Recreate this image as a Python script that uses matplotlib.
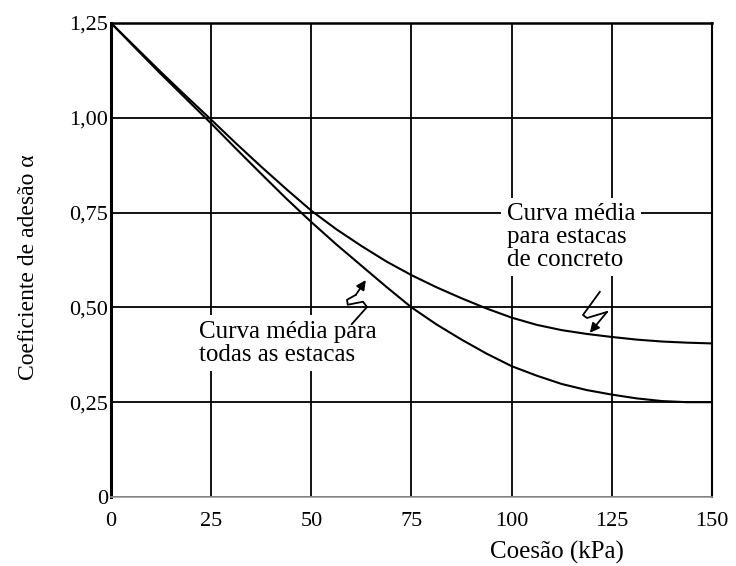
import matplotlib
matplotlib.use("Agg")
import matplotlib.pyplot as plt

plt.rcParams["font.family"] = ["Liberation Serif", "DejaVu Serif"]

coesao = [0, 6.25, 12.5, 18.75, 25, 31.25, 37.5, 43.75, 50, 56.25, 62.5,
          68.75, 75, 81.25, 87.5, 93.75, 100, 106.25, 112.5, 118.75, 125,
          131.25, 137.5, 143.75, 150]
alfa_concreto = [1.25, 1.185, 1.12, 1.057, 0.995, 0.932, 0.871, 0.812, 0.755,
                 0.706, 0.662, 0.621, 0.585, 0.553, 0.524, 0.497, 0.473,
                 0.454, 0.440, 0.430, 0.422, 0.415, 0.410, 0.407, 0.405]
alfa_todas = [1.25, 1.182, 1.115, 1.05, 0.985, 0.918, 0.852, 0.787, 0.725,
              0.666, 0.610, 0.554, 0.500, 0.455, 0.415, 0.378, 0.345,
              0.320, 0.298, 0.282, 0.270, 0.260, 0.253, 0.250, 0.250]

x_ticks = [0, 25, 50, 75, 100, 125, 150]
y_ticks = [0, 0.25, 0.50, 0.75, 1.00, 1.25]
y_labels = ["0", "0,25", "0,50", "0,75", "1,00", "1,25"]

fig = plt.figure(figsize=(7.36, 5.66), dpi=100)
ax = fig.add_axes([0.1508, 0.1219, 0.8166, 0.8375])

ax.set_xlim(0, 150)
ax.set_ylim(0, 1.25)
ax.set_xticks(x_ticks)
ax.set_yticks(y_ticks)
ax.set_yticklabels(y_labels)
ax.tick_params(axis="both", length=0, labelsize=16)
ax.tick_params(axis="x", pad=11)
ax.tick_params(axis="y", pad=2)
ax.grid(True, color="black", linewidth=1.3)
ax.set_axisbelow(True)

for side, lw in [("left", 2.2), ("top", 1.8), ("right", 1.5)]:
    ax.spines[side].set_linewidth(lw)
ax.spines["bottom"].set_color("#9a9a9a")
ax.spines["bottom"].set_linewidth(1.2)

ax.plot(coesao, alfa_concreto, color="black", linewidth=1.5, zorder=3)
ax.plot(coesao, alfa_todas, color="black", linewidth=1.5, zorder=3)

box = dict(facecolor="white", edgecolor="none", pad=4)
ax.text(22, 0.465, "Curva média para\ntodas as estacas", fontsize=18,
        va="top", ha="left", linespacing=1.05, bbox=box, zorder=4)
ax.text(98.8, 0.775, "Curva média\npara estacas\nde concreto", fontsize=18,
        va="top", ha="left", linespacing=1.05, bbox=box, zorder=4)

# setas em zigue-zague
zz_todas_x = [60.1, 63.9, 62.9, 59.1, 58.9, 61.1]
zz_todas_y = [0.456, 0.501, 0.515, 0.507, 0.520, 0.533]
ax.plot(zz_todas_x, zz_todas_y, color="black", linewidth=1.3, zorder=5)
ax.annotate("", xy=(63.6, 0.572), xytext=(zz_todas_x[-1], zz_todas_y[-1]),
            arrowprops=dict(arrowstyle="-|>", color="black", lw=1.3,
                            mutation_scale=14, shrinkA=0, shrinkB=0),
            zorder=5)

zz_conc_x = [122.0, 117.8, 118.8, 123.8]
zz_conc_y = [0.541, 0.480, 0.472, 0.488]
ax.plot(zz_conc_x, zz_conc_y, color="black", linewidth=1.3, zorder=5)
ax.annotate("", xy=(119.5, 0.433), xytext=(zz_conc_x[-1], zz_conc_y[-1]),
            arrowprops=dict(arrowstyle="-|>", color="black", lw=1.3,
                            mutation_scale=14, shrinkA=0, shrinkB=0),
            zorder=5)

ax.text(0.742, -0.118, "Coesão (kPa)", transform=ax.transAxes,
        fontsize=18, ha="center", va="center")
ax.text(-0.138, 0.485, "Coeficiente de adesão α", transform=ax.transAxes,
        fontsize=17, ha="center", va="center", rotation=90)

fig.savefig("out.png", dpi=100)
